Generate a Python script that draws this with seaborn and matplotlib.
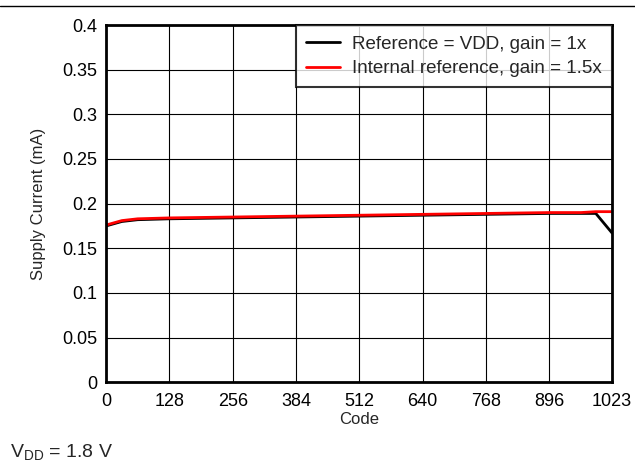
import matplotlib
matplotlib.use("Agg")
import matplotlib.pyplot as plt
import seaborn as sns
import pandas as pd

code = [0, 32, 64, 128, 256, 384, 512, 640, 768, 896, 960, 990, 1023]
ref_vdd = [0.175, 0.180, 0.182, 0.183, 0.184, 0.185, 0.186, 0.187, 0.188, 0.189, 0.189, 0.189, 0.167]
int_ref = [0.176, 0.181, 0.183, 0.184, 0.185, 0.186, 0.187, 0.188, 0.189, 0.190, 0.190, 0.191, 0.191]
xticks = [0, 128, 256, 384, 512, 640, 768, 896, 1023]
yticks = [0, 0.05, 0.1, 0.15, 0.2, 0.25, 0.3, 0.35, 0.4]
labels = ["Reference = VDD, gain = 1x", "Internal reference, gain = 1.5x"]

df = pd.concat([
    pd.DataFrame({"Code": code, "I": ref_vdd, "s": labels[0]}),
    pd.DataFrame({"Code": code, "I": int_ref, "s": labels[1]}),
])

sns.set_theme(style="white")
plt.rcParams["font.family"] = ["Liberation Sans", "DejaVu Sans"]

fig = plt.figure(figsize=(6.35, 4.73), dpi=100)
ax = fig.add_axes([0.167, 0.192, 0.797, 0.755])
sns.lineplot(data=df, x="Code", y="I", hue="s", palette=["black", "#ff0000"],
             linewidth=2, ax=ax, sort=False)
ax.set_xlim(0, 1023)
ax.set_ylim(0, 0.4)
ax.set_xticks(xticks)
ax.set_xticklabels([str(t) for t in xticks])
ax.set_yticks(yticks)
ax.set_yticklabels(["0", "0.05", "0.1", "0.15", "0.2", "0.25", "0.3", "0.35", "0.4"])
ax.grid(True, color="black", linewidth=0.8)
for s in ax.spines.values():
    s.set_color("black")
    s.set_linewidth(2)
ax.tick_params(axis="y", labelsize=13, colors="black", length=0, pad=6)
ax.tick_params(axis="x", labelsize=13, colors="black", length=0, pad=8)
ax.set_xlabel("Code", fontsize=12, labelpad=1)
ax.set_ylabel("Supply Current (mA)", fontsize=12, labelpad=12)
leg = ax.legend(loc="upper right", fontsize=13.5, frameon=True, fancybox=False,
                borderaxespad=0, handlelength=1.8, borderpad=0.55, labelspacing=0.4,
                handletextpad=0.65)
leg.get_frame().set_edgecolor("black")
leg.get_frame().set_linewidth(1.5)
leg.set_title(None)
fig.add_artist(plt.Line2D([0, 1], [0.987, 0.987], color="black", linewidth=1, transform=fig.transFigure))
fig.text(0.016, 0.033, r"V$_{\mathregular{DD}}$ = 1.8 V", fontsize=14)
fig.savefig("out.png", dpi=100)
